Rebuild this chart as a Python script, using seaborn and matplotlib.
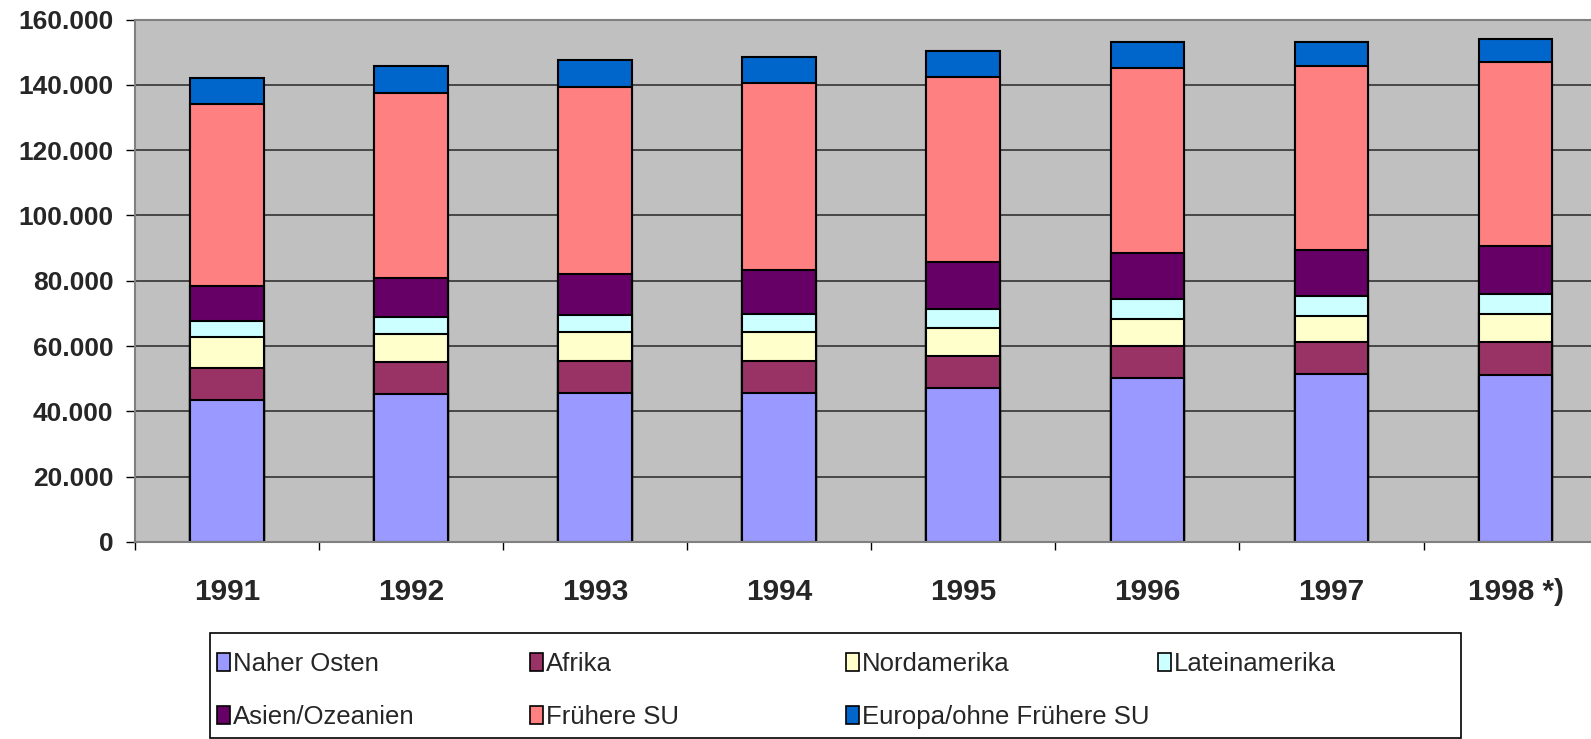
import numpy as np
import matplotlib
matplotlib.use("Agg")
import matplotlib.pyplot as plt
import seaborn as sns
from matplotlib.ticker import FuncFormatter
from matplotlib.patches import Rectangle, Patch

years = ['1991', '1992', '1993', '1994', '1995', '1996', '1997', '1998 *)']
naher_osten = [43500, 45400, 45700, 45700, 47100, 50100, 51300, 51000]
afrika = [9800, 9800, 9800, 9800, 9900, 9800, 9900, 10400]
nordamerika = [9500, 8500, 8700, 8700, 8600, 8500, 8000, 8400]
lateinamerika = [4900, 5200, 5400, 5500, 5900, 5900, 6200, 6200]
asien_ozeanien = [10700, 11900, 12600, 13600, 14100, 14200, 14000, 14600]
fruehere_su = [55600, 56700, 57300, 57300, 56900, 56800, 56300, 56300]
europa = [8100, 8200, 8200, 8000, 8000, 7900, 7400, 7000]

names = ['Naher Osten', 'Afrika', 'Nordamerika', 'Lateinamerika',
         'Asien/Ozeanien', 'Frühere SU', 'Europa/ohne Frühere SU']
colors = ['#9999FF', '#993366', '#FFFFCC', '#CCFFFF', '#660066', '#FF8080', '#0066CC']
values = [naher_osten, afrika, nordamerika, lateinamerika, asien_ozeanien, fruehere_su, europa]

sns.set_theme(style="white")
plt.rcParams['font.family'] = ['Liberation Sans', 'DejaVu Sans']

fig = plt.figure(figsize=(15.91, 7.39), dpi=100)
ax = fig.add_axes([134.8 / 1591, 0.2666, 8 * 184.1 / 1591, 0.7069])
ax.set_facecolor('#C0C0C0')

cum = np.cumsum(np.array(values, dtype=float), axis=0)
for i in reversed(range(len(values))):
    sns.barplot(x=years, y=cum[i], order=years, color=colors[i], width=0.4,
                saturation=1, edgecolor='black', linewidth=1.5, errorbar=None, ax=ax)

ax.set_xlim(-0.5, 7.5)
ax.set_ylim(0, 160000)
ax.set_xlabel('')
ax.set_ylabel('')

ax.set_axisbelow(True)
ax.yaxis.grid(True, color='#333333', linewidth=1.2)
ax.xaxis.grid(False)

for side in ['left', 'bottom', 'top', 'right']:
    ax.spines[side].set_color('#808080')
    ax.spines[side].set_linewidth(1.5)
    ax.spines[side].set_visible(True)

ax.set_yticks(np.arange(0, 160001, 20000))
ax.yaxis.set_major_formatter(FuncFormatter(lambda v, p: f"{v:,.0f}".replace(",", ".")))
ax.tick_params(axis='y', which='major', direction='out', length=6.5, width=1,
               color='black', labelsize=19, pad=9, left=True)
for lbl in ax.get_yticklabels():
    lbl.set_fontweight('bold')

ax.set_xticks(np.arange(-0.5, 8, 1.0))
ax.set_xticklabels([''] * 9)
ax.set_xticks(np.arange(8), minor=True)
ax.set_xticklabels(years, minor=True, fontweight='bold', fontsize=21.5)
ax.tick_params(axis='x', which='major', direction='out', length=6, width=1,
               color='black', bottom=True)
ax.tick_params(axis='x', which='minor', length=0, pad=26, bottom=True)

# Legend frame
frame = Rectangle((210 / 1591, 1.5 / 739), (1461 - 210) / 1591, (739 - 633 - 1.5) / 739,
                  transform=fig.transFigure, fill=False, edgecolor='black',
                  linewidth=1.2)
fig.patches.append(frame)

handles = [Patch(facecolor=c, edgecolor='black', linewidth=1.2) for c in colors]
col_x = [217, 530, 846, 1158]
columns = [[0, 4], [1, 5], [2, 6], [3]]
for cx, idxs in zip(col_x, columns):
    fig.legend([handles[i] for i in idxs], [names[i] for i in idxs],
               loc='upper left', bbox_to_anchor=(cx / 1591, 1 - 652 / 739),
               bbox_transform=fig.transFigure, frameon=False, fontsize=18.5,
               handlelength=0.5, handleheight=0.65, handletextpad=0.12,
               labelspacing=1.13, borderpad=0, borderaxespad=0)

fig.savefig('out.png', dpi=100)
